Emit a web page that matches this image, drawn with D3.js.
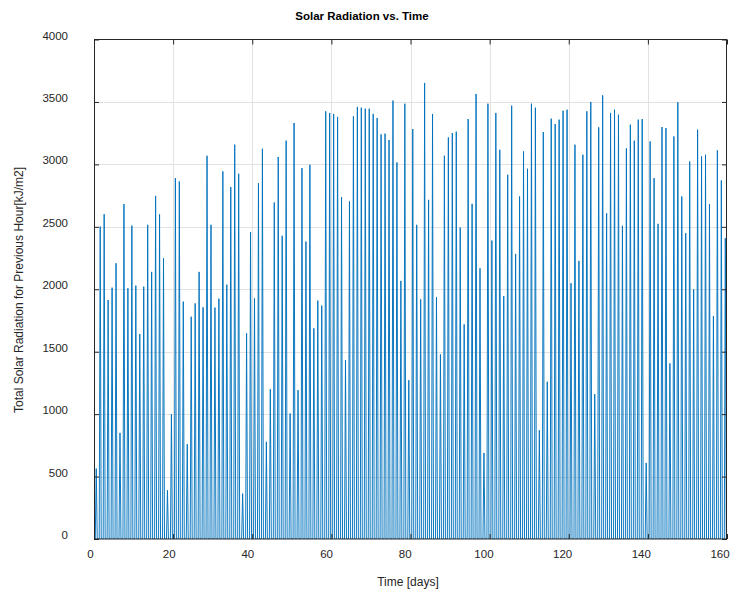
<!DOCTYPE html>
<html><head><meta charset="utf-8">
<script src="https://cdn.jsdelivr.net/npm/d3@7"></script>
<style>body{margin:0;background:#fff}</style>
</head><body>
<svg id="c" width="730" height="594"></svg>
<script>
// Daily peak of hourly solar radiation [kJ/m2], day 0 .. 159
const dailyPeak = [
  564,2502,2601,1914,2013,2208,850,2682,2008,2510,
  2029,1641,2021,2516,2139,2748,2599,2248,390,1000,
  2890,2863,1901,759,1780,1887,2139,1855,3069,2516,
  1853,1925,2944,2037,2818,3158,2925,363,1647,2457,
  1927,2850,3125,778,1200,2695,3059,2428,3190,1005,
  3331,1192,2970,2382,2997,1687,1909,1869,3425,3412,
  3404,3380,2738,1433,2703,3385,3460,3454,3446,3446,
  3404,3372,3240,3246,3195,3511,3016,2067,3486,1272,
  3283,2516,1919,3652,2716,3404,1936,1478,3069,3216,
  3251,3262,2494,1719,3363,2684,3564,2168,689,3486,
  2390,3412,3117,1946,2917,3470,2283,2743,3104,2965,
  3486,3454,871,3259,1259,3366,3323,3358,3430,3438,
  2048,3158,2227,3077,3425,3500,1160,3297,3553,2609,
  3412,3438,3398,2508,3128,3318,3190,3358,3363,609,
  3184,2890,2524,3299,3291,1406,3224,3497,2743,2449,
  3024,1999,3278,3064,3077,2682,1786,3112,2871,2409
];
const xTicks = [0,20,40,60,80,100,120,140,160];
const yTicks = [0,500,1000,1500,2000,2500,3000,3500,4000];
const title = "Solar Radiation vs. Time";
const xLabel = "Time [days]";
const yLabel = "Total Solar Radiation for Previous Hour[kJ/m2]";
// fraction of the day at sunrise, peak hour and sunset
const sunrise = 0.32, peakHour = 0.57, sunset = 0.82;

const svg = d3.select("#c");
const L = 94, R = 727, T = 39.5, B = 539;
const x = d3.scaleLinear().domain([0,160]).range([L,R]);
const y = d3.scaleLinear().domain([0,4000]).range([B,T]);
// tick-label placement scale (labels in the reference sit slightly left of ticks)
const xLab = d3.scaleLinear().domain([0,160]).range([90.5,720]);
const font = "'Liberation Sans', Arial, Helvetica, sans-serif";
const axCol = "#262626";

// grid
const g = svg.append("g");
g.selectAll(".gx").data(xTicks.slice(1,-1)).join("line")
  .attr("x1",d=>Math.round(x(d))+0.5).attr("x2",d=>Math.round(x(d))+0.5)
  .attr("y1",T).attr("y2",B).attr("stroke","#e2e2e2").attr("stroke-width",1);
g.selectAll(".gy").data(yTicks.slice(1,-1)).join("line")
  .attr("y1",d=>Math.round(y(d))+0.5).attr("y2",d=>Math.round(y(d))+0.5)
  .attr("x1",L).attr("x2",R).attr("stroke","#e2e2e2").attr("stroke-width",1);

// data line
const pts = [[0,0]];
dailyPeak.forEach((v,d)=>{
  pts.push([d+sunrise,0],[d+peakHour,v],[d+sunset,0]);
});
pts.push([160,0]);
svg.append("clipPath").attr("id","clip").append("rect")
  .attr("x",L).attr("y",T).attr("width",R-L).attr("height",B-T);
svg.append("path").datum(pts)
  .attr("clip-path","url(#clip)")
  .attr("d", d3.line().x(p=>x(p[0])).y(p=>y(p[1])))
  .attr("fill","none").attr("stroke","#0072BD").attr("stroke-width",0.95)
  .attr("stroke-linejoin","miter");

// axes with d3 axis generators (inward ticks on all four sides)
function styleAxis(sel){
  sel.select(".domain").remove();
  sel.selectAll(".tick line").attr("stroke",axCol);
  sel.selectAll("text").remove();
}
svg.append("g").attr("transform",`translate(0,${B})`)
  .call(d3.axisBottom(x).tickValues(xTicks).tickSizeInner(-5).tickSizeOuter(0)).call(styleAxis);
svg.append("g").attr("transform",`translate(0,${T})`)
  .call(d3.axisTop(x).tickValues(xTicks).tickSizeInner(-5).tickSizeOuter(0)).call(styleAxis);
svg.append("g").attr("transform",`translate(${L},0)`)
  .call(d3.axisLeft(y).tickValues(yTicks).tickSizeInner(-5).tickSizeOuter(0)).call(styleAxis);
svg.append("g").attr("transform",`translate(${R},0)`)
  .call(d3.axisRight(y).tickValues(yTicks).tickSizeInner(-5).tickSizeOuter(0)).call(styleAxis);

// box
svg.append("rect").attr("x",L+0.5).attr("y",T).attr("width",R-L-1).attr("height",B-T)
  .attr("fill","none").attr("stroke",axCol).attr("stroke-width",1);

// tick labels
svg.selectAll(".xl").data(xTicks).join("text")
  .attr("x",d=>xLab(d)).attr("y",B+19)
  .attr("text-anchor","middle").attr("font-family",font).attr("font-size",11.5)
  .attr("fill",axCol).text(d=>d);
svg.selectAll(".yl").data(yTicks).join("text")
  .attr("x",L-26).attr("y",d=>y(d)-4).attr("dy","0.35em")
  .attr("text-anchor","end").attr("font-family",font).attr("font-size",11.5)
  .attr("fill",axCol).text(d=>d);

// title and labels
svg.append("text").attr("x",362).attr("y",20).attr("text-anchor","middle")
  .attr("font-family",font).attr("font-size",11.5).attr("font-weight","bold")
  .attr("fill","#000").text(title);
svg.append("text").attr("x",408).attr("y",586).attr("text-anchor","middle")
  .attr("font-family",font).attr("font-size",12).attr("fill",axCol).text(xLabel);
svg.append("text").attr("transform","translate(23,290) rotate(-90)").attr("text-anchor","middle")
  .attr("font-family",font).attr("font-size",12).attr("fill",axCol).text(yLabel);
</script>
</body></html>
